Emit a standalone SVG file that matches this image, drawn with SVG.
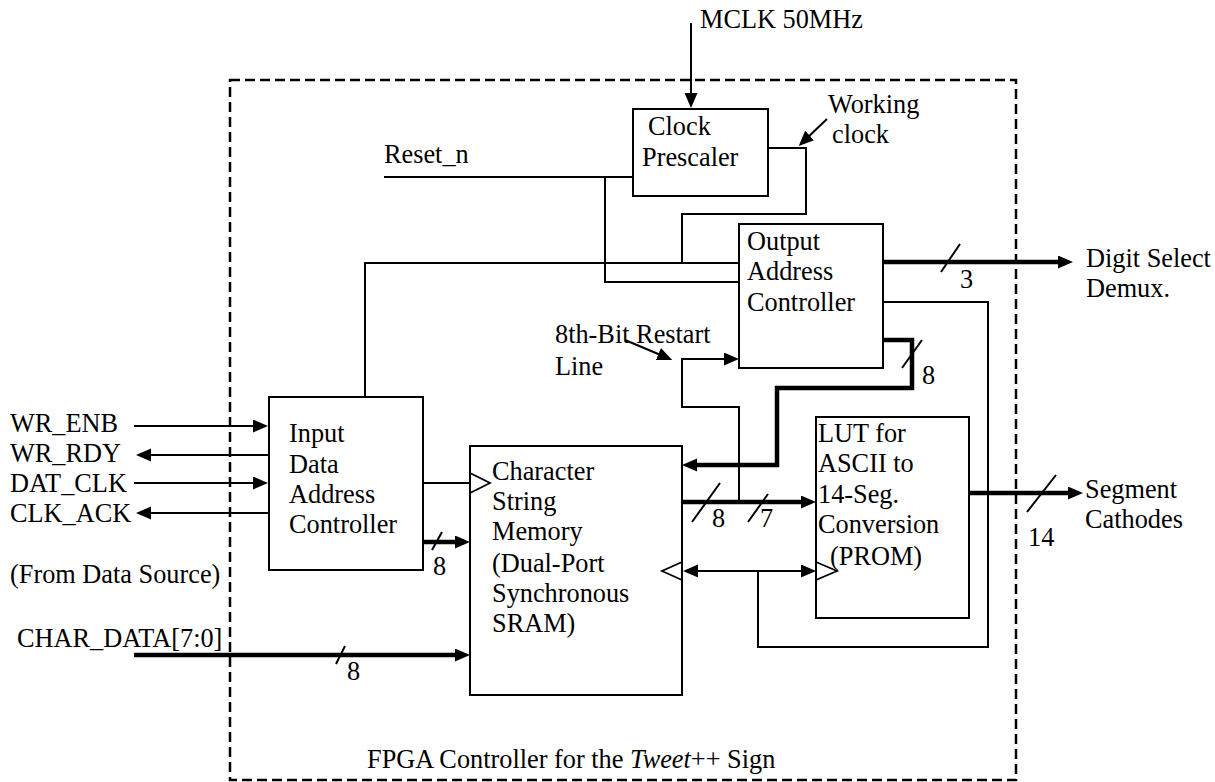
<svg xmlns="http://www.w3.org/2000/svg" width="1215" height="782" viewBox="0 0 1215 782">
<style>
text{font-family:"Liberation Serif",serif;font-size:26.3px;fill:#000}
.box{fill:#fff;stroke:#000;stroke-width:2}
.w{fill:none;stroke:#000;stroke-width:2}
.bus{fill:none;stroke:#000;stroke-width:4.5}
.ck{fill:none;stroke:#000;stroke-width:1.8}
.a{marker-end:url(#ah)}
.ab{marker-end:url(#ah);marker-start:url(#ah)}
</style>
<defs>
<marker id="ah" markerUnits="userSpaceOnUse" markerWidth="16" markerHeight="14" refX="5" refY="6.5" orient="auto-start-reverse" viewBox="0 0 16 14">
<path d="M0,0 L15,6.5 L0,13 z" fill="#000"/>
</marker>
</defs>
<rect width="1215" height="782" fill="#fff"/>

<g id="fpga-boundary">
<rect x="230" y="80" width="786" height="700" fill="none" stroke="#000" stroke-width="2.5" stroke-dasharray="10 5"/>
<text x="367" y="768">FPGA Controller for the <tspan font-style="italic">Tweet</tspan>++ Sign</text>
</g>

<g id="connectors">
<line class="w a" x1="691" y1="23" x2="691" y2="98"/>
<polyline class="w" points="384,177 633,177"/>
<polyline class="w" points="605,177 605,282 739,282"/>
<polyline class="w" points="768,148 806,148 806,214 682,214 682,263"/>
<polyline class="w" points="365,397 365,263 739,263"/>
<line class="w a" x1="827" y1="119" x2="806" y2="139"/>
<line class="bus a" x1="883" y1="262" x2="1063" y2="262"/>
<line class="w" x1="941" y1="272" x2="960" y2="244"/>
<polyline class="w" points="883,302 988,302 988,647 758,647 758,571"/>
<polyline class="bus a" points="883,340 912,340 912,388 777,388 777,465 692,465"/>
<line class="w" x1="902" y1="368" x2="922" y2="340"/>
<polyline class="w a" points="739,502 739,407 682,407 682,359 729,359"/>
<line class="w a" x1="625" y1="340" x2="663" y2="356"/>
<line class="w" x1="423" y1="483" x2="470" y2="483"/>
<line class="bus a" x1="423" y1="542" x2="460" y2="542"/>
<line class="w" x1="432" y1="550" x2="442" y2="532"/>
<line class="bus a" x1="134" y1="655" x2="460" y2="655"/>
<line class="w" x1="336" y1="664" x2="345" y2="646"/>
<line class="bus a" x1="682" y1="502" x2="806" y2="502"/>
<line class="w" x1="692" y1="522" x2="720" y2="483"/>
<line class="w" x1="748" y1="522" x2="768" y2="494"/>
<line class="w ab" x1="693" y1="571" x2="806" y2="571"/>
<line class="bus a" x1="969" y1="493" x2="1073" y2="493"/>
<line class="w" x1="1027" y1="512" x2="1056" y2="475"/>
<line class="w a" x1="134" y1="426" x2="258" y2="426"/>
<line class="w a" x1="269" y1="455" x2="146" y2="455"/>
<line class="w a" x1="134" y1="483" x2="258" y2="483"/>
<line class="w a" x1="269" y1="513" x2="146" y2="513"/>
</g>

<g id="clock-prescaler">
<rect class="box" x="633" y="109" width="135" height="87"/>
<text x="648" y="135">Clock</text>
<text x="642" y="166">Prescaler</text>
</g>

<g id="output-address-controller">
<rect class="box" x="739" y="224" width="144" height="144"/>
<text x="747" y="250">Output</text>
<text x="747" y="280">Address</text>
<text x="747" y="311">Controller</text>
</g>

<g id="input-data-address-controller">
<rect class="box" x="269" y="397" width="154" height="173"/>
<text x="289" y="442">Input</text>
<text x="289" y="473">Data</text>
<text x="289" y="503">Address</text>
<text x="289" y="533">Controller</text>
</g>

<g id="character-string-memory">
<rect class="box" x="470" y="446" width="212" height="249"/>
<polyline class="ck" points="470,473 490,483 470,493"/>
<polyline class="ck" points="682,562 662,571 682,580"/>
<text x="492" y="480">Character</text>
<text x="492" y="510">String</text>
<text x="492" y="540">Memory</text>
<text x="492" y="572">(Dual-Port</text>
<text x="492" y="602">Synchronous</text>
<text x="492" y="632">SRAM)</text>
</g>

<g id="lut">
<rect class="box" x="816" y="417" width="153" height="201"/>
<polyline class="ck" points="816,562 837,571 816,580"/>
<text x="818" y="442">LUT for</text>
<text x="818" y="472">ASCII to</text>
<text x="818" y="503">14-Seg.</text>
<text x="818" y="533">Conversion</text>
<text x="830" y="565">(PROM)</text>
</g>

<g id="labels">
<text x="700" y="28">MCLK 50MHz</text>
<text x="828" y="113">Working</text>
<text x="832" y="143">clock</text>
<text x="384" y="163">Reset_n</text>
<text x="1086" y="267">Digit Select</text>
<text x="1086" y="297">Demux.</text>
<text x="960" y="288">3</text>
<text x="555" y="343">8th-Bit Restart</text>
<text x="555" y="375">Line</text>
<text x="922" y="384">8</text>
<text x="10" y="432">WR_ENB</text>
<text x="10" y="462">WR_RDY</text>
<text x="10" y="492">DAT_CLK</text>
<text x="10" y="522">CLK_ACK</text>
<text x="10" y="583">(From Data Source)</text>
<text x="17" y="647">CHAR_DATA[7:0]</text>
<text x="433" y="575">8</text>
<text x="347" y="680">8</text>
<text x="712" y="527">8</text>
<text x="760" y="527">7</text>
<text x="1085" y="498">Segment</text>
<text x="1085" y="528">Cathodes</text>
<text x="1028" y="546">14</text>
</g>
</svg>
